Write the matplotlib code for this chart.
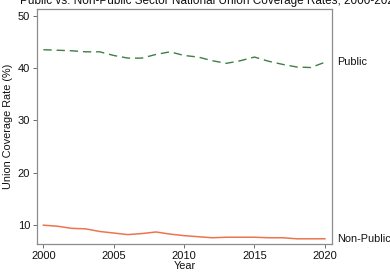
import matplotlib
matplotlib.use('Agg')
import matplotlib.pyplot as plt

plt.rcParams['font.family'] = ['Liberation Sans', 'DejaVu Sans']

years = list(range(2000, 2021))
public = [43.5, 43.4, 43.3, 43.1, 43.1, 42.4, 41.9, 41.9, 42.6, 43.1, 42.4,
          42.1, 41.4, 40.9, 41.4, 42.1, 41.3, 40.7, 40.2, 40.1, 41.1]
non_public = [10.0, 9.8, 9.4, 9.3, 8.8, 8.5, 8.2, 8.4, 8.7, 8.3, 8.0,
              7.8, 7.6, 7.7, 7.7, 7.7, 7.6, 7.6, 7.4, 7.4, 7.4]
series_names = ['Public', 'Non-Public']
yticks = [10, 20, 30, 40, 50]
xticks = [2000, 2005, 2010, 2015, 2020]

green = '#3d7f46'
orange = '#ec7550'
spine_col = '#8c8c8c'

fig = plt.figure(figsize=(3.9, 2.77), dpi=100)
fig.patch.set_facecolor('white')
ax = fig.add_axes([0.095, 0.119, 0.756, 0.849])

ax.plot(years, public, color=green, lw=1.0, ls=(0, (6, 3.5)))
ax.plot(years, non_public, color=orange, lw=1.1)

ax.set_xlim(1999.55, 2020.5)
ax.set_ylim(6.4, 51.3)
ax.set_xticks(xticks)
ax.set_yticks(yticks)
ax.tick_params(axis='both', labelsize=8, length=3, width=0.6, color='#555555',
               pad=2, labelcolor='#111111')
for s in ax.spines.values():
    s.set_color(spine_col)
    s.set_linewidth(0.9)

ax.set_xlabel('Year', fontsize=7.8, labelpad=0.3, color='#111111')
ax.set_ylabel('Union Coverage Rate (%)', fontsize=7.8, labelpad=3.5, color='#111111')

# end-of-line labels
for name, vals in zip(series_names, [public, non_public]):
    ax.annotate(name, xy=(1.0, vals[-1]), xycoords=('axes fraction', 'data'),
                xytext=(3.5, 0), textcoords='offset points',
                ha='left', va='center', fontsize=7.8, color='#111111',
                annotation_clip=False)

fig.text(0.052, 0.997, 'Public vs. Non-Public Sector National Union Coverage Rates, 2000-2020',
         ha='left', va='center', fontsize=8.5, color='#111111')

fig.savefig('out.png', dpi=100, facecolor='white')
